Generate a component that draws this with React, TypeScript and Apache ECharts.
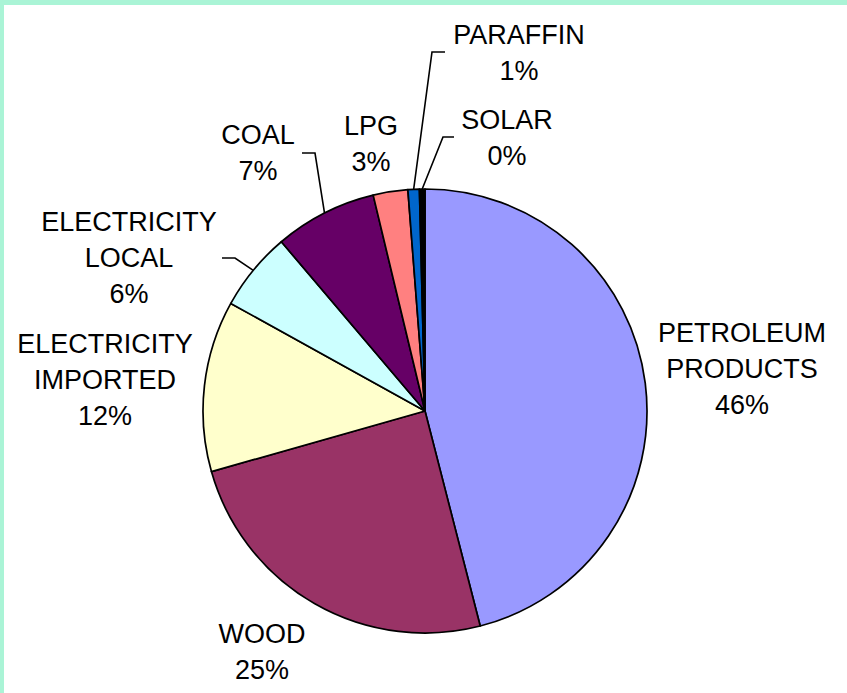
import React, { useEffect, useRef } from "react";
import * as echarts from "echarts";

// ---- data ----
const categories = [
  "PETROLEUM\nPRODUCTS",
  "WOOD",
  "ELECTRICITY\nIMPORTED",
  "ELECTRICITY\nLOCAL",
  "COAL",
  "LPG",
  "PARAFFIN",
  "SOLAR",
];
const values = [46.0, 24.6, 12.45, 5.75, 7.45, 2.52, 0.83, 0.4];
const colors = ["#9999FF", "#993366", "#FFFFCC", "#CCFFFF", "#660066", "#FF8080", "#0066CC", "#000000"];
const hasLeader = [false, false, false, true, true, false, true, true];

// ---- label layout (pixels) ----
const labelCenters: number[][] = [
  [742, 369],
  [262, 652],
  [105, 380],
  [129, 258],
  [258, 153],
  [371, 144],
  [519, 53],
  [507, 138],
];
const leaderBends: (number[][] | null)[] = [
  null,
  null,
  null,
  [[235, 258], [222, 258]],
  [[315, 153], [302, 153]],
  null,
  [[432, 52], [445, 52]],
  [[443, 137], [454, 137]],
];

export default function App() {
  const ref = useRef<HTMLDivElement>(null);
  useEffect(() => {
    if (!ref.current) return;
    const chart = echarts.init(ref.current, null, { renderer: "svg" });
    chart.setOption({
      animation: false,
      backgroundColor: "#ffffff",
      graphic: [
        { type: "rect", shape: { x: 0, y: 0, width: 847, height: 5 }, style: { fill: "#AAF4D6" }, silent: true },
        { type: "rect", shape: { x: 0, y: 0, width: 4, height: 693 }, style: { fill: "#AAF4D6" }, silent: true },
      ],
      series: [
        {
          type: "pie",
          center: [425, 411],
          radius: 222,
          startAngle: 90,
          clockwise: true,
          avoidLabelOverlap: false,
          emphasis: { disabled: true },
          itemStyle: { borderColor: "#000", borderWidth: 1.7 },
          label: {
            show: true,
            position: "outside",
            color: "#000",
            fontFamily: "Liberation Sans, Arial, sans-serif",
            fontSize: 27,
            lineHeight: 36,
            align: "center",
            formatter: (p: any) => `${p.name}\n${Math.round(p.percent)}%`,
          },
          labelLine: { show: true, length: 10, length2: 10, smooth: false, lineStyle: { color: "#000", width: 1.6 } },
          labelLayout: (p: any) => {
            const i = p.dataIndex;
            const [x, y] = labelCenters[i];
            const res: any = { x, y, align: "center", verticalAlign: "middle" };
            const b = leaderBends[i];
            if (b && p.labelLinePoints) {
              res.labelLinePoints = [p.labelLinePoints[0], b[0], b[1]];
            }
            return res;
          },
          data: categories.map((name, i) => ({
            name,
            value: values[i],
            itemStyle: { color: colors[i] },
            labelLine: { show: hasLeader[i] },
          })),
        },
      ],
    });
    return () => chart.dispose();
  }, []);
  return (
    <div
      ref={ref}
      style={{ position: "fixed", left: 0, top: 0, width: 847, height: 693, background: "#fff" }}
    />
  );
}
